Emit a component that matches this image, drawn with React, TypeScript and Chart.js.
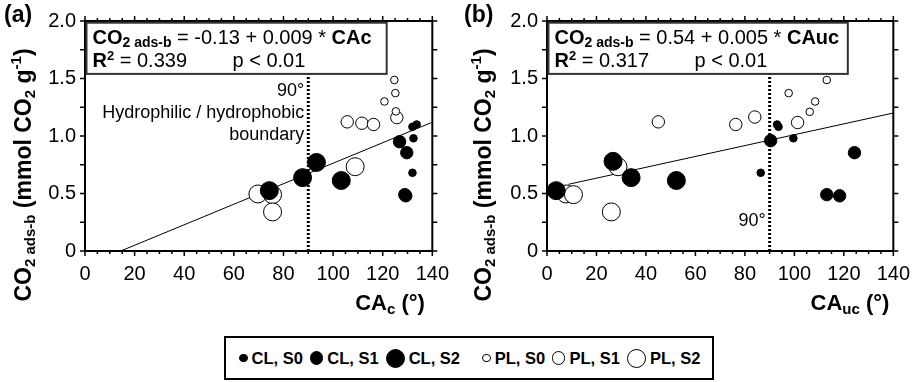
import React, { useEffect, useRef } from "react";
import { Chart, registerables } from "chart.js";
Chart.register(...registerables);

const FONT = "'Liberation Sans', Arial, Helvetica, sans-serif";

// ---------- Panel (a): CO2 ads-b vs CAc ----------
const A_CL_S0_X = [133.7, 132.0, 132.4, 132.0];
const A_CL_S0_Y = [1.1, 1.08, 0.98, 0.68];
const A_CL_S1_X = [126.8, 129.7, 128.9, 129.3];
const A_CL_S1_Y = [0.95, 0.855, 0.49, 0.48];
const A_CL_S2_X = [74.3, 87.7, 93.3, 103.3];
const A_CL_S2_Y = [0.525, 0.638, 0.77, 0.613];
const A_PL_S0_X = [124.7, 125.1, 120.7, 125.3];
const A_PL_S0_Y = [1.487, 1.373, 1.3, 1.214];
const A_PL_S1_X = [105.7, 111.6, 116.3, 125.7];
const A_PL_S1_Y = [1.123, 1.111, 1.1, 1.16];
const A_PL_S2_X = [69.7, 75.6, 75.6, 108.9];
const A_PL_S2_Y = [0.496, 0.49, 0.34, 0.733];
const A_FIT_X = [14.4, 140];
const A_FIT_Y = [0, 1.12];

// ---------- Panel (b): CO2 ads-b vs CAuc ----------
const B_CL_S0_X = [93.0, 93.6, 99.6, 86.4];
const B_CL_S0_Y = [1.1, 1.08, 0.98, 0.68];
const B_CL_S1_X = [90.4, 124.3, 113.1, 118.3];
const B_CL_S1_Y = [0.96, 0.855, 0.49, 0.48];
const B_CL_S2_X = [3.7, 26.7, 34.0, 52.3];
const B_CL_S2_Y = [0.525, 0.78, 0.638, 0.613];
const B_PL_S0_X = [113.1, 97.7, 108.4, 106.2];
const B_PL_S0_Y = [1.487, 1.373, 1.3, 1.21];
const B_PL_S1_X = [45.0, 76.3, 84.0, 101.3];
const B_PL_S1_Y = [1.123, 1.1, 1.165, 1.117];
const B_PL_S2_X = [7.7, 10.7, 26.0, 28.7];
const B_PL_S2_Y = [0.496, 0.49, 0.34, 0.733];
const B_FIT_X = [8.7, 140];
const B_FIT_Y = [0.58, 1.2];

// 90° hydrophilic / hydrophobic boundary
const BOUNDARY_X = [90, 90];
const BOUNDARY_Y = [0, 1.54];

// Axis ranges
const X_MIN = 0, X_MAX = 140, X_STEP = 20, X_MINOR = 5;
const Y_MIN = 0, Y_MAX = 2, Y_STEP = 0.5, Y_MINOR = 0.25;

const SERIES_LABELS = ["CL, S0", "CL, S1", "CL, S2", "PL, S0", "PL, S1", "PL, S2"];
// styles (kept apart from data)
const SERIES_FILLED = [true, true, true, false, false, false];
const SERIES_RADIUS = [3.8, 6.2, 9, 3.8, 6.2, 9];

type Run = { t: string; size: number; bold?: boolean; dy?: number };
const fnt = (size: number, bold?: boolean) => `${bold ? "bold " : ""}${size}px ${FONT}`;

function drawRuns(ctx: CanvasRenderingContext2D, runs: Run[], x: number, y: number, align: "left" | "right" | "center") {
  let w = 0;
  for (const r of runs) {
    ctx.font = fnt(r.size, r.bold);
    w += ctx.measureText(r.t).width;
  }
  let cx = align === "left" ? x : align === "right" ? x - w : x - w / 2;
  ctx.textAlign = "left";
  ctx.textBaseline = "alphabetic";
  ctx.fillStyle = "#000";
  for (const r of runs) {
    ctx.font = fnt(r.size, r.bold);
    ctx.fillText(r.t, cx, y + (r.dy || 0));
    cx += ctx.measureText(r.t).width;
  }
}

function zip(xs: number[], ys: number[]) {
  return xs.map((x, i) => ({ x, y: ys[i] }));
}

type Panel = {
  series: [number[], number[]][];
  fitX: number[];
  fitY: number[];
  panelLabel: string;
  eqConst: string;
  eqVar: string;
  r2: string;
  xSub: string;
  notes: { t: string; dy: number }[];
  yAxisWidth: number;
  rightPad: number;
};

const PANEL_A: Panel = {
  series: [
    [A_CL_S0_X, A_CL_S0_Y], [A_CL_S1_X, A_CL_S1_Y], [A_CL_S2_X, A_CL_S2_Y],
    [A_PL_S0_X, A_PL_S0_Y], [A_PL_S1_X, A_PL_S1_Y], [A_PL_S2_X, A_PL_S2_Y],
  ],
  fitX: A_FIT_X, fitY: A_FIT_Y,
  panelLabel: "(a)",
  eqConst: " = -0.13 + 0.009 * ",
  eqVar: "CAc",
  r2: " = 0.339",
  xSub: "c",
  notes: [
    { t: "90°", dy: 75 },
    { t: "Hydrophilic / hydrophobic", dy: 97 },
    { t: "boundary", dy: 119 },
  ],
  yAxisWidth: 85,
  rightPad: 25,
};

const PANEL_B: Panel = {
  series: [
    [B_CL_S0_X, B_CL_S0_Y], [B_CL_S1_X, B_CL_S1_Y], [B_CL_S2_X, B_CL_S2_Y],
    [B_PL_S0_X, B_PL_S0_Y], [B_PL_S1_X, B_PL_S1_Y], [B_PL_S2_X, B_PL_S2_Y],
  ],
  fitX: B_FIT_X, fitY: B_FIT_Y,
  panelLabel: "(b)",
  eqConst: " = 0.54 + 0.005 * ",
  eqVar: "CAuc",
  r2: " = 0.317",
  xSub: "uc",
  notes: [{ t: "90°", dy: 205 }],
  yAxisWidth: 87,
  rightPad: 24,
};

const CANVAS_H = 335;

function makeChart(canvas: HTMLCanvasElement, p: Panel) {
  const decor = {
    id: "decor",
    afterDatasetsDraw(chart: any) {
      const ctx: CanvasRenderingContext2D = chart.ctx;
      const { left, right, top, bottom } = chart.chartArea;
      const xs = chart.scales.x;
      const ys = chart.scales.y;
      ctx.save();
      // frame
      ctx.strokeStyle = "#000";
      ctx.lineWidth = 2;
      ctx.strokeRect(left, top, right - left, bottom - top);
      // ticks, outside on all four sides
      ctx.lineWidth = 1.5;
      ctx.beginPath();
      for (let v = X_MIN; v <= X_MAX + 1e-9; v += X_MINOR) {
        const px = xs.getPixelForValue(v);
        const len = Math.abs(v % X_STEP) < 1e-9 ? 5 : 3;
        ctx.moveTo(px, bottom);
        ctx.lineTo(px, bottom + len);
        ctx.moveTo(px, top);
        ctx.lineTo(px, top - len);
      }
      for (let v = Y_MIN; v <= Y_MAX + 1e-9; v += Y_MINOR) {
        const py = ys.getPixelForValue(v);
        ctx.moveTo(left - 5, py);
        ctx.lineTo(left, py);
        ctx.moveTo(right, py);
        ctx.lineTo(right + 5, py);
      }
      ctx.stroke();

      // equation box
      const bx0 = xs.getPixelForValue(0.6);
      const bx1 = xs.getPixelForValue(121.6);
      const by0 = ys.getPixelForValue(1.985);
      const by1 = ys.getPixelForValue(BOUNDARY_Y[1]);
      ctx.fillStyle = "#fff";
      ctx.fillRect(bx0, by0, bx1 - bx0, by1 - by0);
      ctx.strokeStyle = "#333";
      ctx.lineWidth = 2;
      ctx.strokeRect(bx0, by0, bx1 - bx0, by1 - by0);
      drawRuns(ctx, [
        { t: "CO", size: 20, bold: true },
        { t: "2 ads-b", size: 14, bold: true, dy: 3 },
        { t: p.eqConst, size: 20 },
        { t: p.eqVar, size: 20, bold: true },
      ], bx0 + 6, top + 23, "left");
      drawRuns(ctx, [
        { t: "R", size: 20, bold: true },
        { t: "2", size: 13, bold: true, dy: -7 },
        { t: p.r2, size: 20 },
      ], bx0 + 6, top + 46, "left");
      drawRuns(ctx, [{ t: "p < 0.01", size: 20 }], bx0 + 146, top + 46, "left");

      // boundary notes
      const nx = xs.getPixelForValue(90) - 4;
      for (const n of p.notes) drawRuns(ctx, [{ t: n.t, size: 18 }], nx, top + n.dy, "right");

      // panel label
      drawRuns(ctx, [{ t: p.panelLabel, size: 23, bold: true }], 4, 22, "left");

      // x title
      drawRuns(ctx, [
        { t: "CA", size: 22, bold: true },
        { t: p.xSub, size: 15, bold: true, dy: 4 },
        { t: " (°)", size: 22, bold: true },
      ], 390, 310, "center");

      // y title (rotated)
      ctx.translate(31, 175);
      ctx.rotate(-Math.PI / 2);
      drawRuns(ctx, [
        { t: "CO", size: 23, bold: true },
        { t: "2", size: 15, bold: true, dy: 4 },
        { t: " ads-b", size: 15, bold: true, dy: 4 },
        { t: " (mmol CO", size: 23, bold: true },
        { t: "2", size: 15, bold: true, dy: 4 },
        { t: " g", size: 23, bold: true },
        { t: "-1", size: 15, bold: true, dy: -10 },
        { t: ")", size: 23, bold: true },
      ], 0, 0, "center");
      ctx.restore();
    },
  };

  const scatterSets = p.series.map(([sx, sy], i) => ({
    type: "scatter" as const,
    label: SERIES_LABELS[i],
    data: zip(sx, sy),
    pointRadius: SERIES_RADIUS[i],
    pointBackgroundColor: SERIES_FILLED[i] ? "#000" : "#fff",
    pointBorderColor: "#000",
    pointBorderWidth: 1,
    showLine: false,
  }));

  return new Chart(canvas, {
    type: "scatter",
    data: {
      datasets: [
        ...scatterSets,
        {
          type: "line",
          label: "fit",
          data: zip(p.fitX, p.fitY),
          borderColor: "#000",
          borderWidth: 1,
          pointRadius: 0,
          showLine: true,
          fill: false,
        } as any,
        {
          type: "line",
          label: "90°",
          data: zip(BOUNDARY_X, BOUNDARY_Y),
          borderColor: "#000",
          borderWidth: 3,
          borderDash: [2, 2],
          pointRadius: 0,
          showLine: true,
          fill: false,
        } as any,
      ],
    },
    options: {
      animation: false,
      responsive: false,
      events: [],
      devicePixelRatio: 1,
      layout: { padding: { top: 17, right: p.rightPad, left: 0, bottom: 0 } },
      plugins: { legend: { display: false }, tooltip: { enabled: false }, title: { display: false } },
      scales: {
        x: {
          type: "linear",
          min: X_MIN,
          max: X_MAX,
          grid: { display: false, drawTicks: false },
          border: { display: false },
          ticks: {
            stepSize: X_STEP,
            color: "#000",
            font: { family: FONT, size: 20 },
            padding: 11,
            maxRotation: 0,
            autoSkip: false,
          },
          afterFit: (s: any) => { s.height = CANVAS_H - 251; },
        },
        y: {
          type: "linear",
          min: Y_MIN,
          max: Y_MAX,
          grid: { display: false, drawTicks: false },
          border: { display: false },
          ticks: {
            stepSize: Y_STEP,
            color: "#000",
            font: { family: FONT, size: 20 },
            padding: 9,
            callback: (v: any) => (Number(v) === 0 ? "0" : Number(v).toFixed(1)),
          },
          afterFit: (s: any) => { s.width = p.yAxisWidth; },
        },
      },
    },
    plugins: [decor],
  } as any);
}

function Legend() {
  return (
    <div
      style={{
        position: "absolute",
        left: 224,
        top: 336,
        width: 490,
        height: 44,
        border: "2px solid #000",
        boxSizing: "border-box",
        display: "flex",
        alignItems: "center",
        paddingLeft: 13,
        fontFamily: FONT,
        fontWeight: "bold",
        fontSize: 16.5,
        color: "#000",
        background: "#fff",
      }}
    >
      {SERIES_LABELS.map((lab, i) => (
        <React.Fragment key={lab}>
          <span
            style={{
              display: "inline-block",
              width: (SERIES_RADIUS[i] + 0.5) * 2,
              height: (SERIES_RADIUS[i] + 0.5) * 2,
              borderRadius: "50%",
              border: "1px solid #000",
              boxSizing: "border-box",
              background: SERIES_FILLED[i] ? "#000" : "#fff",
              flex: "none",
            }}
          />
          <span style={{ marginLeft: 4, marginRight: i === 2 ? 22 : 7, whiteSpace: "nowrap" }}>{lab}</span>
        </React.Fragment>
      ))}
    </div>
  );
}

export default function App() {
  const refA = useRef<HTMLCanvasElement>(null);
  const refB = useRef<HTMLCanvasElement>(null);
  useEffect(() => {
    const a = makeChart(refA.current!, PANEL_A);
    const b = makeChart(refB.current!, PANEL_B);
    return () => {
      a.destroy();
      b.destroy();
    };
  }, []);
  return (
    <div
      style={{
        position: "fixed",
        left: 0,
        top: 0,
        width: 921,
        height: 382,
        background: "#fff",
        overflow: "hidden",
      }}
    >
      <canvas ref={refA} width={460} height={CANVAS_H} style={{ position: "absolute", left: 0, top: 0 }} />
      <canvas ref={refB} width={461} height={CANVAS_H} style={{ position: "absolute", left: 460, top: 0 }} />
      <Legend />
    </div>
  );
}
